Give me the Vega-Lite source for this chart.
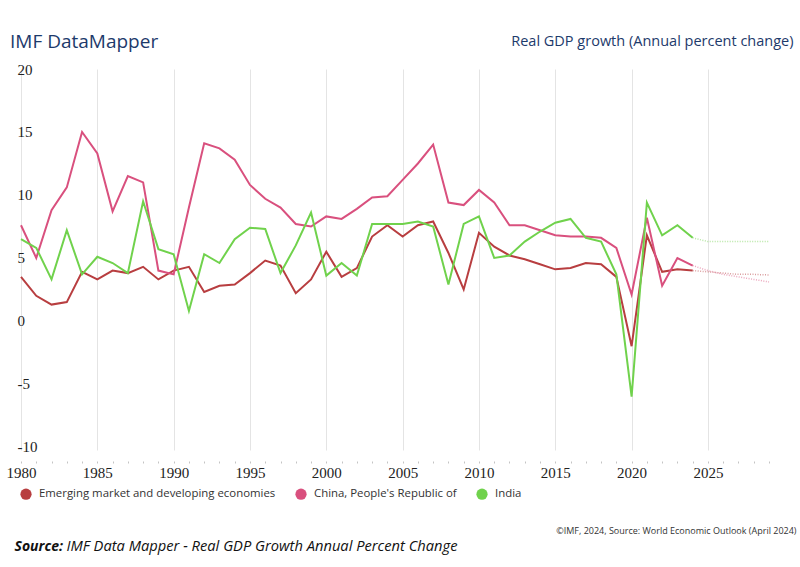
{
  "$schema": "https://vega.github.io/schema/vega-lite/v6.json",
  "width": 748,
  "height": 381,
  "autosize": {"type": "none"},
  "padding": {"left": 21, "top": 69, "right": 31, "bottom": 117},
  "background": "white",
  "title": {
    "text": "IMF DataMapper",
    "orient": "top",
    "anchor": "start",
    "frame": "group",
    "dx": -11,
    "offset": -34,
    "baseline": "alphabetic",
    "font": "Open Sans",
    "fontSize": 19,
    "fontWeight": "normal",
    "color": "#1d3a6b"
  },
  "config": {"view": {"stroke": null}},
  "data": {
    "values": [
      {"year": 1980, "series": "Emerging market and developing economies", "value": 3.5},
      {"year": 1981, "series": "Emerging market and developing economies", "value": 2.0},
      {"year": 1982, "series": "Emerging market and developing economies", "value": 1.3},
      {"year": 1983, "series": "Emerging market and developing economies", "value": 1.5},
      {"year": 1984, "series": "Emerging market and developing economies", "value": 3.9},
      {"year": 1985, "series": "Emerging market and developing economies", "value": 3.3},
      {"year": 1986, "series": "Emerging market and developing economies", "value": 4.0},
      {"year": 1987, "series": "Emerging market and developing economies", "value": 3.8},
      {"year": 1988, "series": "Emerging market and developing economies", "value": 4.3},
      {"year": 1989, "series": "Emerging market and developing economies", "value": 3.3},
      {"year": 1990, "series": "Emerging market and developing economies", "value": 4.0},
      {"year": 1991, "series": "Emerging market and developing economies", "value": 4.3},
      {"year": 1992, "series": "Emerging market and developing economies", "value": 2.3},
      {"year": 1993, "series": "Emerging market and developing economies", "value": 2.8},
      {"year": 1994, "series": "Emerging market and developing economies", "value": 2.9},
      {"year": 1995, "series": "Emerging market and developing economies", "value": 3.8},
      {"year": 1996, "series": "Emerging market and developing economies", "value": 4.8},
      {"year": 1997, "series": "Emerging market and developing economies", "value": 4.4},
      {"year": 1998, "series": "Emerging market and developing economies", "value": 2.2},
      {"year": 1999, "series": "Emerging market and developing economies", "value": 3.3},
      {"year": 2000, "series": "Emerging market and developing economies", "value": 5.5},
      {"year": 2001, "series": "Emerging market and developing economies", "value": 3.5},
      {"year": 2002, "series": "Emerging market and developing economies", "value": 4.2},
      {"year": 2003, "series": "Emerging market and developing economies", "value": 6.7},
      {"year": 2004, "series": "Emerging market and developing economies", "value": 7.6},
      {"year": 2005, "series": "Emerging market and developing economies", "value": 6.7},
      {"year": 2006, "series": "Emerging market and developing economies", "value": 7.6},
      {"year": 2007, "series": "Emerging market and developing economies", "value": 7.9},
      {"year": 2008, "series": "Emerging market and developing economies", "value": 5.4},
      {"year": 2009, "series": "Emerging market and developing economies", "value": 2.5},
      {"year": 2010, "series": "Emerging market and developing economies", "value": 7.0},
      {"year": 2011, "series": "Emerging market and developing economies", "value": 5.9},
      {"year": 2012, "series": "Emerging market and developing economies", "value": 5.2},
      {"year": 2013, "series": "Emerging market and developing economies", "value": 4.9},
      {"year": 2014, "series": "Emerging market and developing economies", "value": 4.5},
      {"year": 2015, "series": "Emerging market and developing economies", "value": 4.1},
      {"year": 2016, "series": "Emerging market and developing economies", "value": 4.2},
      {"year": 2017, "series": "Emerging market and developing economies", "value": 4.6},
      {"year": 2018, "series": "Emerging market and developing economies", "value": 4.5},
      {"year": 2019, "series": "Emerging market and developing economies", "value": 3.5},
      {"year": 2020, "series": "Emerging market and developing economies", "value": -2.0},
      {"year": 2021, "series": "Emerging market and developing economies", "value": 6.8},
      {"year": 2022, "series": "Emerging market and developing economies", "value": 3.9},
      {"year": 2023, "series": "Emerging market and developing economies", "value": 4.1},
      {"year": 2024, "series": "Emerging market and developing economies", "value": 4.0},
      {"year": 2025, "series": "Emerging market and developing economies", "value": 3.9},
      {"year": 2026, "series": "Emerging market and developing economies", "value": 3.8},
      {"year": 2027, "series": "Emerging market and developing economies", "value": 3.7},
      {"year": 2028, "series": "Emerging market and developing economies", "value": 3.7},
      {"year": 2029, "series": "Emerging market and developing economies", "value": 3.65},
      {"year": 1980, "series": "China, People's Republic of", "value": 7.6},
      {"year": 1981, "series": "China, People's Republic of", "value": 5.0},
      {"year": 1982, "series": "China, People's Republic of", "value": 8.8},
      {"year": 1983, "series": "China, People's Republic of", "value": 10.6},
      {"year": 1984, "series": "China, People's Republic of", "value": 15.0},
      {"year": 1985, "series": "China, People's Republic of", "value": 13.3},
      {"year": 1986, "series": "China, People's Republic of", "value": 8.7},
      {"year": 1987, "series": "China, People's Republic of", "value": 11.5},
      {"year": 1988, "series": "China, People's Republic of", "value": 11.0},
      {"year": 1989, "series": "China, People's Republic of", "value": 4.0},
      {"year": 1990, "series": "China, People's Republic of", "value": 3.7},
      {"year": 1991, "series": "China, People's Republic of", "value": 9.0},
      {"year": 1992, "series": "China, People's Republic of", "value": 14.1},
      {"year": 1993, "series": "China, People's Republic of", "value": 13.7},
      {"year": 1994, "series": "China, People's Republic of", "value": 12.8},
      {"year": 1995, "series": "China, People's Republic of", "value": 10.8},
      {"year": 1996, "series": "China, People's Republic of", "value": 9.7},
      {"year": 1997, "series": "China, People's Republic of", "value": 9.0},
      {"year": 1998, "series": "China, People's Republic of", "value": 7.7},
      {"year": 1999, "series": "China, People's Republic of", "value": 7.5},
      {"year": 2000, "series": "China, People's Republic of", "value": 8.3},
      {"year": 2001, "series": "China, People's Republic of", "value": 8.1},
      {"year": 2002, "series": "China, People's Republic of", "value": 8.9},
      {"year": 2003, "series": "China, People's Republic of", "value": 9.8},
      {"year": 2004, "series": "China, People's Republic of", "value": 9.9},
      {"year": 2005, "series": "China, People's Republic of", "value": 11.2},
      {"year": 2006, "series": "China, People's Republic of", "value": 12.5},
      {"year": 2007, "series": "China, People's Republic of", "value": 14.0},
      {"year": 2008, "series": "China, People's Republic of", "value": 9.4},
      {"year": 2009, "series": "China, People's Republic of", "value": 9.2},
      {"year": 2010, "series": "China, People's Republic of", "value": 10.4},
      {"year": 2011, "series": "China, People's Republic of", "value": 9.4},
      {"year": 2012, "series": "China, People's Republic of", "value": 7.6},
      {"year": 2013, "series": "China, People's Republic of", "value": 7.6},
      {"year": 2014, "series": "China, People's Republic of", "value": 7.2},
      {"year": 2015, "series": "China, People's Republic of", "value": 6.8},
      {"year": 2016, "series": "China, People's Republic of", "value": 6.7},
      {"year": 2017, "series": "China, People's Republic of", "value": 6.7},
      {"year": 2018, "series": "China, People's Republic of", "value": 6.6},
      {"year": 2019, "series": "China, People's Republic of", "value": 5.8},
      {"year": 2020, "series": "China, People's Republic of", "value": 2.1},
      {"year": 2021, "series": "China, People's Republic of", "value": 8.2},
      {"year": 2022, "series": "China, People's Republic of", "value": 2.8},
      {"year": 2023, "series": "China, People's Republic of", "value": 5.0},
      {"year": 2024, "series": "China, People's Republic of", "value": 4.4},
      {"year": 2025, "series": "China, People's Republic of", "value": 4.0},
      {"year": 2026, "series": "China, People's Republic of", "value": 3.7},
      {"year": 2027, "series": "China, People's Republic of", "value": 3.5},
      {"year": 2028, "series": "China, People's Republic of", "value": 3.3},
      {"year": 2029, "series": "China, People's Republic of", "value": 3.1},
      {"year": 1980, "series": "India", "value": 6.5},
      {"year": 1981, "series": "India", "value": 5.8},
      {"year": 1982, "series": "India", "value": 3.3},
      {"year": 1983, "series": "India", "value": 7.2},
      {"year": 1984, "series": "India", "value": 3.7},
      {"year": 1985, "series": "India", "value": 5.1},
      {"year": 1986, "series": "India", "value": 4.6},
      {"year": 1987, "series": "India", "value": 3.8},
      {"year": 1988, "series": "India", "value": 9.5},
      {"year": 1989, "series": "India", "value": 5.7},
      {"year": 1990, "series": "India", "value": 5.3},
      {"year": 1991, "series": "India", "value": 0.8},
      {"year": 1992, "series": "India", "value": 5.3},
      {"year": 1993, "series": "India", "value": 4.6},
      {"year": 1994, "series": "India", "value": 6.5},
      {"year": 1995, "series": "India", "value": 7.4},
      {"year": 1996, "series": "India", "value": 7.3},
      {"year": 1997, "series": "India", "value": 3.8},
      {"year": 1998, "series": "India", "value": 6.0},
      {"year": 1999, "series": "India", "value": 8.6},
      {"year": 2000, "series": "India", "value": 3.6},
      {"year": 2001, "series": "India", "value": 4.6},
      {"year": 2002, "series": "India", "value": 3.6},
      {"year": 2003, "series": "India", "value": 7.7},
      {"year": 2004, "series": "India", "value": 7.7},
      {"year": 2005, "series": "India", "value": 7.7},
      {"year": 2006, "series": "India", "value": 7.9},
      {"year": 2007, "series": "India", "value": 7.5},
      {"year": 2008, "series": "India", "value": 2.9},
      {"year": 2009, "series": "India", "value": 7.7},
      {"year": 2010, "series": "India", "value": 8.3},
      {"year": 2011, "series": "India", "value": 5.0},
      {"year": 2012, "series": "India", "value": 5.2},
      {"year": 2013, "series": "India", "value": 6.3},
      {"year": 2014, "series": "India", "value": 7.1},
      {"year": 2015, "series": "India", "value": 7.8},
      {"year": 2016, "series": "India", "value": 8.1},
      {"year": 2017, "series": "India", "value": 6.6},
      {"year": 2018, "series": "India", "value": 6.3},
      {"year": 2019, "series": "India", "value": 3.7},
      {"year": 2020, "series": "India", "value": -6.0},
      {"year": 2021, "series": "India", "value": 9.4},
      {"year": 2022, "series": "India", "value": 6.8},
      {"year": 2023, "series": "India", "value": 7.6},
      {"year": 2024, "series": "India", "value": 6.6},
      {"year": 2025, "series": "India", "value": 6.3},
      {"year": 2026, "series": "India", "value": 6.3},
      {"year": 2027, "series": "India", "value": 6.3},
      {"year": 2028, "series": "India", "value": 6.3},
      {"year": 2029, "series": "India", "value": 6.3}
    ]
  },
  "resolve": {"axis": {"x": "independent", "y": "independent"}},
  "layer": [
    {
      "transform": [{"filter": "datum.year <= 2024"}],
      "mark": {"type": "line", "strokeWidth": 2, "strokeJoin": "miter"},
      "encoding": {
        "x": {
          "field": "year", "type": "quantitative",
          "scale": {"domain": [1980, 2029], "nice": false, "zero": false},
          "axis": {
            "orient": "bottom",
            "values": [1980,1981,1982,1983,1984,1985,1986,1987,1988,1989,1990,1991,1992,1993,1994,1995,1996,1997,1998,1999,2000,2001,2002,2003,2004,2005,2006,2007,2008,2009,2010,2011,2012,2013,2014,2015,2016,2017,2018,2019,2020,2021,2022,2023,2024,2025,2026,2027,2028,2029],
            "format": "d",
            "labelExpr": "datum.value % 5 === 0 ? datum.label : ''",
            "domain": false, "grid": false,
            "ticks": true, "tickSize": 2, "tickColor": "#c4c4c4", "tickWidth": 1,
            "offset": 11,
            "labelPadding": 2, "labelBaseline": "top",
            "labelFont": "Liberation Serif", "labelFontSize": 15, "labelColor": "#222222",
            "labelFlush": false, "labelOverlap": false,
            "title": "©IMF, 2024, Source: World Economic Outlook (April 2024)",
            "titleFont": "Open Sans", "titleFontSize": 9, "titleFontWeight": "normal", "titleColor": "#333333",
            "titleAlign": "right", "titleBaseline": "alphabetic", "titleAnchor": "end",
            "titleX": 775, "titleY": 72
          }
        },
        "y": {
          "field": "value", "type": "quantitative",
          "scale": {"domain": [-10.24, 20], "nice": false, "zero": false},
          "axis": {
            "orient": "left",
            "values": [-10, -5, 0, 5, 10, 15, 20],
            "labelExpr": "'' + datum.value",
            "domain": false, "grid": false, "ticks": false,
            "labelAlign": "left", "labelBaseline": "middle", "labelPadding": 4,
            "labelFont": "Liberation Serif", "labelFontSize": 15, "labelColor": "#222222",
            "title": "Source:",
            "titleFont": "Open Sans", "titleFontSize": 14, "titleFontWeight": "bold", "titleFontStyle": "italic", "titleColor": "#111111",
            "titleAngle": 0, "titleAlign": "left", "titleBaseline": "alphabetic",
            "titleX": -7, "titleY": 481
          }
        },
        "color": {
          "field": "series", "type": "nominal",
          "scale": {
            "domain": ["Emerging market and developing economies", "China, People's Republic of", "India"],
            "range": ["#b83e40", "#d9507e", "#70d24c"]
          },
          "legend": {
            "orient": "none", "legendX": -1, "legendY": 419,
            "direction": "horizontal", "title": null,
            "symbolType": "circle", "symbolSize": 125, "symbolStrokeWidth": 0,
            "labelFont": "Open Sans", "labelFontSize": 11.4, "labelColor": "#333333", "labelLimit": 0,
            "labelOffset": 7, "columnPadding": 19, "padding": 0,
            "encode": {"symbols": {"update": {"fill": {"scale": "color", "field": "value"}, "opacity": {"value": 1}}}}
          }
        }
      }
    },
    {
      "transform": [{"filter": "datum.year >= 2024"}],
      "mark": {"type": "line", "strokeWidth": 1.5, "strokeDash": [1, 1.5], "opacity": 0.5},
      "encoding": {
        "x": {
          "field": "year", "type": "quantitative",
          "axis": {
            "orient": "top",
            "values": [1980, 1985, 1990, 1995, 2000, 2005, 2010, 2015, 2020, 2025],
            "labels": false, "ticks": false, "domain": false,
            "grid": true, "gridColor": "#e4e4e4", "gridWidth": 1,
            "title": "Real GDP growth (Annual percent change)",
            "titleFont": "Open Sans", "titleFontSize": 14.5, "titleFontWeight": "normal", "titleColor": "#1d3a6b",
            "titleAlign": "right", "titleBaseline": "alphabetic", "titleAnchor": "end",
            "titleX": 772, "titleY": -24
          }
        },
        "y": {
          "field": "value", "type": "quantitative",
          "axis": {
            "orient": "right",
            "labels": false, "ticks": false, "domain": false, "grid": false,
            "title": "IMF Data Mapper - Real GDP Growth Annual Percent Change",
            "titleFont": "Open Sans", "titleFontSize": 14.7, "titleFontWeight": "normal", "titleFontStyle": "italic", "titleColor": "#111111",
            "titleAngle": 0, "titleAlign": "left", "titleBaseline": "alphabetic",
            "titleX": -703, "titleY": 481
          }
        },
        "color": {"field": "series", "type": "nominal"}
      }
    }
  ]
}
